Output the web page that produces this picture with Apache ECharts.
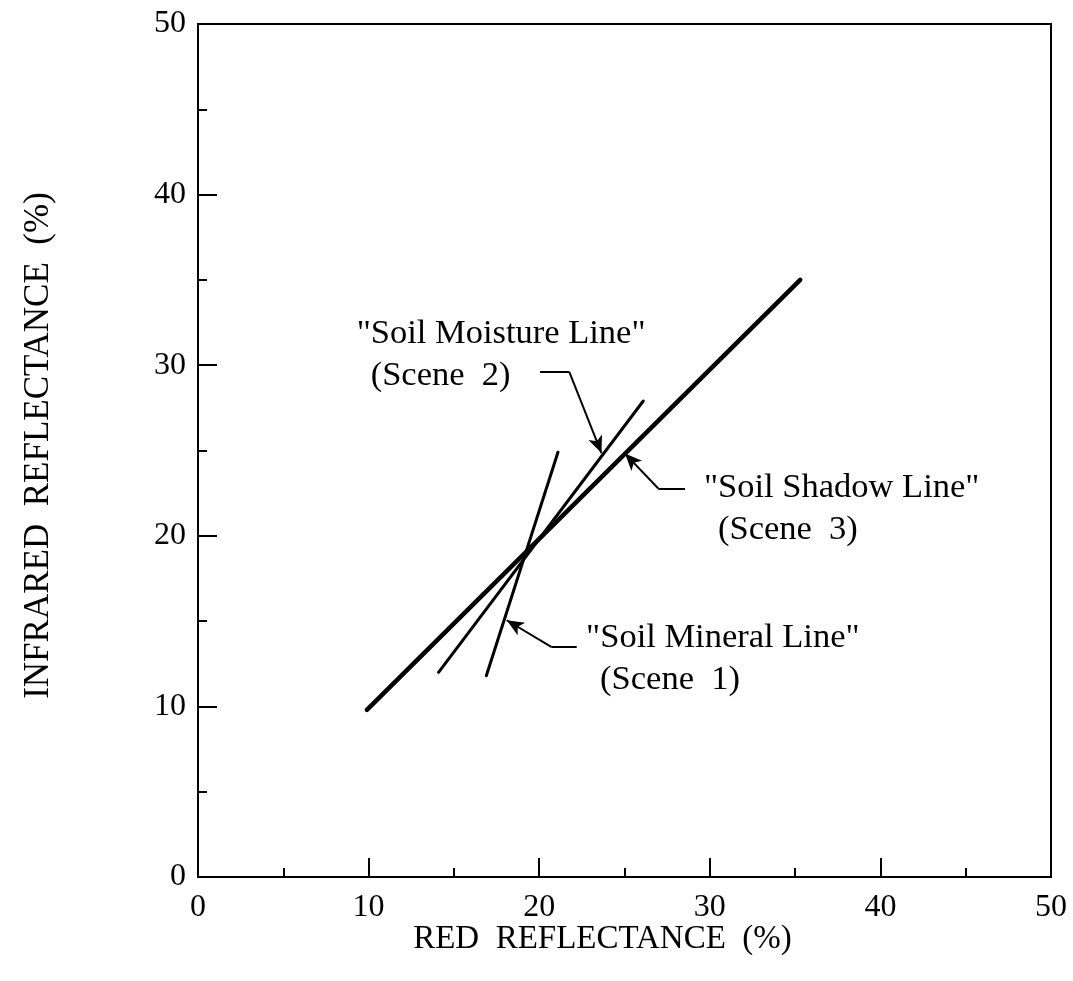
<!DOCTYPE html>
<html><head><meta charset="utf-8">
<script src="https://cdn.jsdelivr.net/npm/echarts@6/dist/echarts.min.js"></script>
<style>html,body{margin:0;padding:0;background:#fff}#c{width:1073px;height:981px}</style>
</head><body><div id="c"></div>
<script>
// ---- data ----
const axisMin = 0, axisMax = 50, axisStep = 10;
const xTitle = 'RED  REFLECTANCE  (%)';
const yTitle = 'INFRARED  REFLECTANCE  (%)';

const shadowX   = [9.9, 35.3];   const shadowY   = [9.8, 35.0];
const moistureX = [14.1, 26.1];  const moistureY = [12.0, 27.9];
const mineralX  = [16.9, 21.1];  const mineralY  = [11.8, 24.9];

// leader lines: start of horizontal stroke, elbow, arrow tip
const moistureLeaderX = [20.05, 21.77, 23.65]; const moistureLeaderY = [29.6, 29.6, 24.85];
const shadowLeaderX   = [28.55, 26.98, 25.03]; const shadowLeaderY   = [22.77, 22.77, 24.82];
const mineralLeaderX  = [22.2, 20.73, 18.1];   const mineralLeaderY  = [13.48, 13.48, 15.05];

// annotation texts and their anchors (left edge, block middle)
const noteNames  = ['"Soil Moisture Line"', '"Soil Shadow Line"', '"Soil Mineral Line"'];
const noteScenes = ['(Scene  2)', '(Scene  3)', '(Scene  1)'];
const noteX = [9.3, 29.66, 22.75];
const noteY = [30.6, 21.6, 12.8];

// ---- build ----
const FONT = '"Liberation Serif","Times New Roman",serif';
const zip = (a, b) => a.map((v, i) => [v, b[i]]);

function leader(xs, ys) {
  return {
    silent: true, animation: false,
    label: { show: false },
    lineStyle: { color: '#000', width: 2, type: 'solid', opacity: 1 },
    symbolSize: [11, 17],
    data: [
      [{ coord: [xs[0], ys[0]], symbol: 'none' }, { coord: [xs[1], ys[1]], symbol: 'none' }],
      [{ coord: [xs[1], ys[1]], symbol: 'none' }, { coord: [xs[2], ys[2]], symbol: 'arrow' }]
    ]
  };
}
function lineSeries(name, xs, ys, w, lx, ly) {
  return {
    name, type: 'line', data: zip(xs, ys), showSymbol: false, symbol: 'none',
    silent: true, animation: false,
    lineStyle: { color: '#000', width: w, cap: 'round' },
    markLine: leader(lx, ly)
  };
}

const chart = echarts.init(document.getElementById('c'), null, { renderer: 'canvas' });
const axisCommon = {
  type: 'value', min: axisMin, max: axisMax, interval: axisStep,
  axisLine: { show: true, lineStyle: { color: '#000', width: 2 } },
  axisTick: { show: true, inside: true, length: 19, lineStyle: { color: '#000', width: 2 } },
  minorTick: { show: true, splitNumber: 2, length: 9, lineStyle: { color: '#000', width: 2 } },
  splitLine: { show: false },
  axisLabel: { color: '#000', fontFamily: FONT, fontSize: 32, margin: 12 },
  nameLocation: 'middle',
  nameMoveOverlap: false,
  nameTextStyle: { color: '#000', fontFamily: FONT, fontSize: 33 }
};
chart.setOption({
  backgroundColor: '#fff',
  animation: false,
  grid: { left: 198, top: 24, right: 22, bottom: 104, show: true, borderColor: '#000', borderWidth: 2, backgroundColor: 'transparent' },
  xAxis: Object.assign({}, axisCommon, {
    name: xTitle, nameGap: 46,
    axisLabel: Object.assign({}, axisCommon.axisLabel, { margin: 15 }),
    nameTextStyle: Object.assign({}, axisCommon.nameTextStyle, { padding: [0, 44, 0, 0] })
  }),
  yAxis: Object.assign({}, axisCommon, {
    name: yTitle, nameGap: 142,
    nameTextStyle: Object.assign({}, axisCommon.nameTextStyle, { fontSize: 35, padding: [0, 0, 0, 10] })
  }),
  series: [
    lineSeries('Soil Shadow Line', shadowX, shadowY, 4.5, shadowLeaderX, shadowLeaderY),
    lineSeries('Soil Moisture Line', moistureX, moistureY, 3, moistureLeaderX, moistureLeaderY),
    lineSeries('Soil Mineral Line', mineralX, mineralY, 3, mineralLeaderX, mineralLeaderY),
    {
      type: 'scatter', silent: true, animation: false, symbolSize: 0,
      itemStyle: { opacity: 1, color: '#000' },
      data: noteX.map((x, i) => ({ value: [x, noteY[i]], name: noteNames[i] })),
      label: {
        show: true, position: 'right', distance: 0, color: '#000', opacity: 1,
        fontFamily: FONT, fontSize: 34.5, lineHeight: 42,
        formatter: p => '{a|' + noteNames[p.dataIndex] + '}\n{b|' + noteScenes[p.dataIndex] + '}',
        rich: {
          a: { fontFamily: FONT, fontSize: 34.5, lineHeight: 42, color: '#000' },
          b: { fontFamily: FONT, fontSize: 34.5, lineHeight: 42, color: '#000', padding: [0, 0, 0, 14] }
        }
      }
    }
  ]
});
</script></body></html>
